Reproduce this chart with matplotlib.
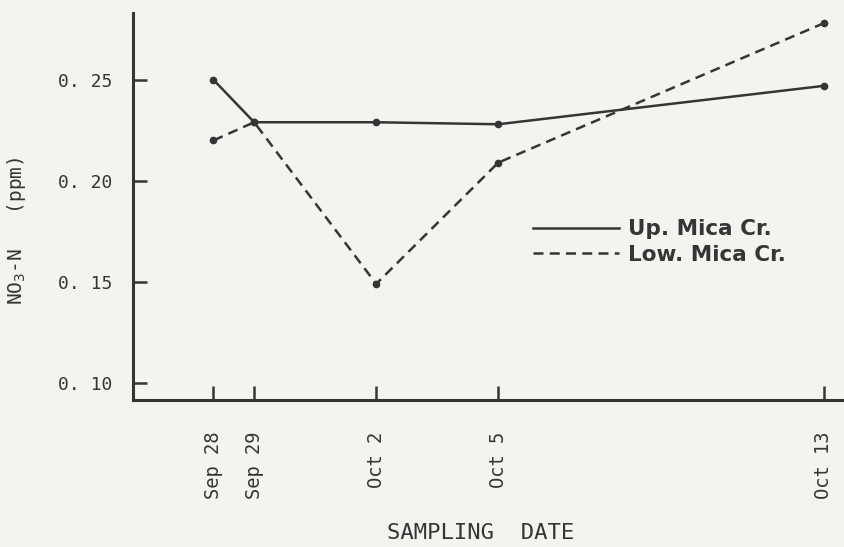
import matplotlib
matplotlib.use("Agg")
import matplotlib.pyplot as plt

# days after Sep 28
days = [0, 1, 4, 7, 15]
date_labels = ["Sep 28", "Sep 29", "Oct 2", "Oct 5", "Oct 13"]
upper_mica = [0.250, 0.229, 0.229, 0.228, 0.247]
lower_mica = [0.220, 0.229, 0.149, 0.209, 0.278]
y_ticks = [0.10, 0.15, 0.20, 0.25]
y_tick_labels = ["0. 10", "0. 15", "0. 20", "0. 25"]

ink = "#353535"
paper = "#f4f3ef"
mono = "DejaVu Sans Mono"

fig = plt.figure(figsize=(8.44, 5.47), dpi=100, facecolor=paper)
ax = fig.add_axes([0.158, 0.269, 0.842, 0.707])
ax.set_facecolor(paper)

ax.plot(days, upper_mica, "-", color=ink, lw=1.8, marker="o", ms=4.5,
        label="Up. Mica Cr.")
ax.plot(days, lower_mica, "--", color=ink, lw=1.8, marker="o", ms=4.5,
        dashes=(4, 2.5), label="Low. Mica Cr.")

ax.set_xlim(-1.97, 15.5)
ax.set_ylim(0.0916, 0.283)

for side in ["top", "right"]:
    ax.spines[side].set_visible(False)
for side in ["left", "bottom"]:
    ax.spines[side].set_linewidth(2.2)
    ax.spines[side].set_color(ink)

ax.set_xticks(days)
ax.set_xticklabels(date_labels, rotation=90, fontsize=13.5, family=mono, color=ink)
ax.set_yticks(y_ticks)
ax.set_yticklabels(y_tick_labels, fontsize=13, family=mono, color=ink)
ax.tick_params(axis="both", direction="in", length=10, width=1.8, color=ink)
ax.tick_params(axis="x", pad=23)
ax.tick_params(axis="y", pad=15)

ax.set_xlabel("SAMPLING  DATE", fontsize=16, family=mono, color=ink)
ax.xaxis.set_label_coords(0.488, -0.318)
ax.set_ylabel("NO$_3$-N   (ppm)", fontsize=14, family=mono, color=ink)
ax.yaxis.set_label_coords(-0.148, 0.437)

leg = ax.legend(loc="center left", bbox_to_anchor=(0.5626, 0.408), frameon=False,
                borderaxespad=0, borderpad=0,
                handlelength=4.0, handletextpad=0.4, labelspacing=0.25,
                prop={"family": "DejaVu Sans", "weight": "bold", "size": 15.5})
for line in leg.get_lines():
    line.set_marker("")
for t in leg.get_texts():
    t.set_color(ink)

fig.savefig("out.png", dpi=100, facecolor=paper)
